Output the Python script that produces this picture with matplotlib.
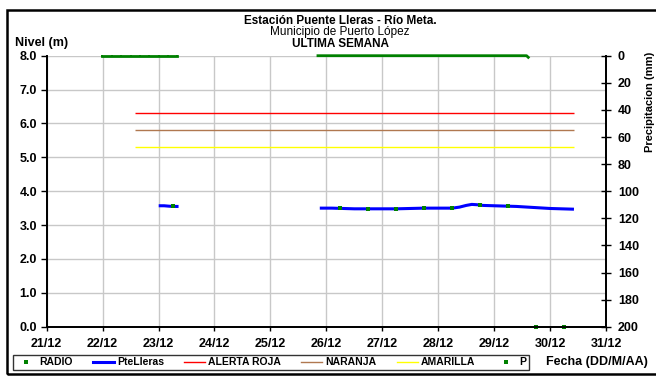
import matplotlib
matplotlib.use("Agg")
import matplotlib.pyplot as plt
from matplotlib.lines import Line2D
from matplotlib.patches import Rectangle

plt.rcParams['font.family'] = ['Liberation Sans', 'DejaVu Sans']

# x values are days counted from 21/12 00:00
day_labels = ["21/12", "22/12", "23/12", "24/12", "25/12", "26/12",
              "27/12", "28/12", "29/12", "30/12", "31/12"]

# PteLleras water level (m), two recorded stretches
level_t1 = [2.03, 2.10, 2.17, 2.25, 2.33]
level_v1 = [3.57, 3.57, 3.56, 3.55, 3.55]
level_t2 = [4.91, 5.10, 5.30, 5.50, 5.75, 6.00, 6.25, 6.50, 6.75, 7.00, 7.25,
            7.38, 7.50, 7.60, 7.70, 7.80, 8.00, 8.20, 8.40, 8.60, 8.80, 9.00,
            9.20, 9.40]
level_v2 = [3.50, 3.50, 3.49, 3.48, 3.48, 3.48, 3.48, 3.49, 3.50, 3.50, 3.50,
            3.53, 3.58, 3.61, 3.60, 3.58, 3.57, 3.56, 3.55, 3.53, 3.51, 3.49,
            3.48, 3.47]

# Radio reports (m)
radio_t = [2.25, 5.25, 5.75, 6.25, 6.75, 7.25, 7.75, 8.25, 8.75, 9.25]
radio_v = [3.56, 3.49, 3.48, 3.48, 3.50, 3.50, 3.60, 3.56, 0.0, 0.0]

# Alert thresholds (m)
alert_span = [1.58, 9.43]
alerta_roja = 6.3
naranja = 5.8
amarilla = 5.3

# Precipitation (mm), every 4 h
p_t1 = [0.98, 1.17, 1.33, 1.50, 1.67, 1.83, 2.00, 2.17, 2.33]
p_v1 = [0, 0, 0, 0, 0, 0, 0, 0, 0]
p_t2 = [4.85, 5.00, 5.17, 5.33, 5.50, 5.67, 5.83, 6.00, 6.17, 6.33, 6.50,
        6.67, 6.83, 7.00, 7.17, 7.33, 7.50, 7.67, 7.83, 8.00, 8.17, 8.33,
        8.50, 8.58, 8.61]
p_v2 = [0, 0, 0, 0, 0, 0, 0, 0, 0, 0, 0,
        0, 0, 0, 0, 0, 0, 0, 0, 0, 0, 0,
        0, 0, 1.2]

W, H = 656, 376
fig = plt.figure(figsize=(W / 100, H / 100), dpi=100)
ax = fig.add_axes([46.7 / W, 1 - 326.7 / H, (606 - 46.7) / W, (326.7 - 55.7) / H])
ax2 = ax.twinx()

green = "#008000"
ax.hlines([alerta_roja], *alert_span, color="#ff0000", lw=1.0, zorder=3)
ax.hlines([naranja], *alert_span, color="#b07850", lw=1.0, zorder=3)
ax.hlines([amarilla], *alert_span, color="#ffff00", lw=1.0, zorder=3)
ax.plot(level_t1, level_v1, color="#0000ff", lw=2.2, zorder=4)
ax.plot(level_t2, level_v2, color="#0000ff", lw=2.2, zorder=4)
ax.plot(radio_t, radio_v, ls="none", marker="s", ms=2.6, color=green, mew=0,
        zorder=5, clip_on=False)

ax2.plot(p_t1, p_v1, color=green, lw=2.0, marker="s", ms=2, mew=0, zorder=5,
         clip_on=False)
ax2.plot(p_t2, p_v2, color=green, lw=2.0, marker="s", ms=2, mew=0, zorder=5,
         clip_on=False)

ax.set_xlim(0, 10)
ax.set_ylim(0, 8)
ax2.set_ylim(200, 0)
ax.set_xticks(range(len(day_labels)))
ax.set_xticklabels(day_labels)
ax.set_yticks([i for i in range(9)])
ax.set_yticklabels([f"{i:.1f}" for i in range(9)])
ax2.set_yticks(range(0, 201, 20))

ax.grid(True, color="#c8c8c8", lw=1.0)
ax.set_axisbelow(True)
for a in (ax, ax2):
    a.spines["top"].set_visible(False)
    for s in ("left", "right", "bottom"):
        a.spines[s].set_linewidth(1.3)
        a.spines[s].set_color("black")
fs = 9
ax.tick_params(axis="x", direction="out", length=3, width=1, pad=5,
               labelsize=fs)
ax.tick_params(axis="y", direction="out", length=4, width=1, pad=3,
               labelsize=fs)
ax2.tick_params(axis="y", direction="inout", length=7, width=1, pad=5,
                labelsize=fs)
for lab in ax.get_xticklabels() + ax.get_yticklabels() + ax2.get_yticklabels():
    lab.set_fontweight("bold")

tfs = 8.5
fig.text(340 / W, 1 - 21 / H, "Estación Puente Lleras - Río Meta.",
         ha="center", va="center", fontsize=tfs, fontweight="bold")
fig.text(340 / W, 1 - 32.5 / H, "Municipio de Puerto López",
         ha="center", va="center", fontsize=tfs)
fig.text(340 / W, 1 - 44 / H, "ULTIMA SEMANA",
         ha="center", va="center", fontsize=tfs, fontweight="bold")
fig.text(15 / W, 1 - 43 / H, "Nivel (m)", ha="left", va="center",
         fontsize=fs, fontweight="bold")
fig.text(650 / W, 1 - 102 / H, "Precipitacion (mm)", ha="center",
         va="center", rotation=90, fontsize=8, fontweight="bold")
fig.text(546 / W, 1 - 362 / H, "Fecha (DD/M/AA)", ha="left", va="center",
         fontsize=fs, fontweight="bold")

handles = [
    Line2D([], [], ls="none", marker="s", ms=2.8, mew=0, color=green),
    Line2D([], [], color="#0000ff", lw=2.2),
    Line2D([], [], color="#ff0000", lw=1.0),
    Line2D([], [], color="#b07850", lw=1.0),
    Line2D([], [], color="#ffff00", lw=1.0),
    Line2D([], [], ls="none", marker="s", ms=2.8, mew=0, color=green),
]
labels = ["RADIO", "PteLleras", "ALERTA ROJA", "NARANJA", "AMARILLA", "P"]
leg = fig.legend(handles, labels, loc="lower left", ncol=6, mode="expand",
                 bbox_to_anchor=(12.7 / W, 1 - 370 / H, (529 - 12.7) / W, 17 / H),
                 prop={"size": 7.5, "weight": "bold"}, frameon=True,
                 fancybox=False, edgecolor="black", borderpad=0.25,
                 handlelength=2.0, handletextpad=0.3, columnspacing=0.5,
                 borderaxespad=0, numpoints=1)
leg.get_frame().set_linewidth(1.0)

fig.patches.append(Rectangle((7 / W, 2 / H), 1.2, 1 - 12 / H,
                             transform=fig.transFigure, fill=False,
                             edgecolor="black", lw=1.8, zorder=10))

fig.savefig("out.png", dpi=100)
